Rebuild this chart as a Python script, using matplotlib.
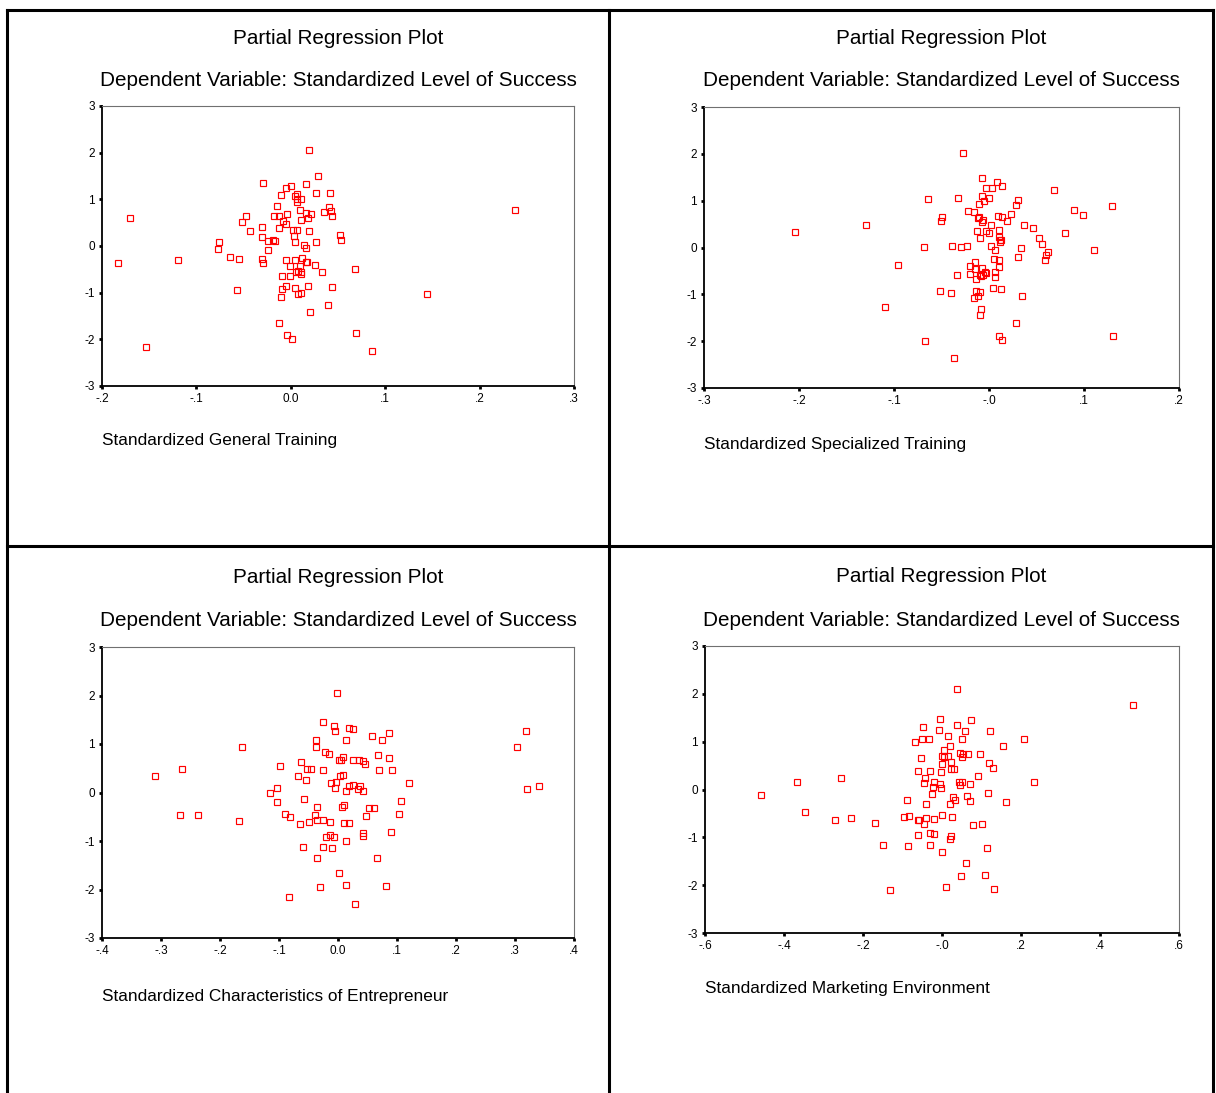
import matplotlib
matplotlib.use("Agg")
import matplotlib.pyplot as plt
from matplotlib.lines import Line2D

plt.rcParams['font.family'] = ['Liberation Sans', 'DejaVu Sans']

# Data
gen_x = [-0.183, -0.170, -0.153, -0.119, -0.076, -0.077, -0.064, -0.055, -0.057, -0.052,
         -0.047, -0.043, -0.031, -0.030, -0.029, -0.030, -0.029, -0.024, -0.024, -0.019,
         -0.017, -0.018, -0.015, -0.012, -0.012, -0.010, -0.008, -0.005, -0.004, -0.005,
         0.000, 0.004, 0.007, 0.007, 0.007, 0.011, 0.010, 0.016, 0.019, 0.029,
         0.027, 0.042, 0.016, 0.021, 0.018, 0.011, 0.035, 0.040, 0.043, 0.044,
         0.002, 0.007, 0.019, 0.003, 0.004, 0.014, 0.016, 0.027, 0.052, 0.053,
         -0.005, 0.004, 0.012, 0.016, 0.017, -0.001, 0.010, 0.026, 0.005, 0.008,
         0.011, 0.011, 0.033, 0.068, -0.009, -0.001, -0.005, -0.009, 0.004, 0.018,
         0.044, 0.008, 0.011, -0.010, 0.144, 0.039, 0.020, -0.012, -0.004, 0.001,
         0.069, 0.086, 0.237]
gen_y = [-0.37, 0.60, -2.16, -0.29, 0.08, -0.07, -0.23, -0.27, -0.95, 0.52,
         0.64, 0.33, 0.40, 0.20, 1.36, -0.27, -0.37, 0.10, -0.09, 0.12,
         0.10, 0.64, 0.85, 0.64, 0.38, 1.10, 0.54, 1.25, 0.68, 0.48,
         1.28, 1.08, 1.12, 1.00, 0.94, 1.00, 0.78, 1.32, 2.05, 1.51,
         1.14, 1.14, 0.70, 0.68, 0.60, 0.55, 0.72, 0.84, 0.76, 0.65,
         0.35, 0.35, 0.32, 0.22, 0.08, 0.03, -0.05, 0.08, 0.24, 0.12,
         -0.29, -0.29, -0.25, -0.35, -0.35, -0.43, -0.43, -0.40, -0.55, -0.53,
         -0.55, -0.59, -0.55, -0.50, -0.65, -0.65, -0.85, -0.93, -0.89, -0.85,
         -0.87, -1.03, -1.01, -1.09, -1.03, -1.27, -1.41, -1.66, -1.90, -2.00,
         -1.86, -2.26, 0.78]

spec_x = [-0.204, -0.130, -0.096, -0.110, -0.068, -0.064, -0.067, -0.049, -0.051, -0.052,
          -0.040, -0.039, -0.037, -0.034, -0.033, -0.030, -0.027, -0.023, -0.022, -0.020,
          -0.020, -0.016, -0.016, -0.015, -0.015, -0.014, -0.014, -0.013, -0.012, -0.011,
          -0.011, -0.012, -0.010, -0.010, -0.009, -0.008, -0.008, -0.009, -0.007, -0.007,
          -0.007, -0.006, -0.007, -0.006, -0.005, -0.004, -0.003, -0.003, -0.003, 0.000,
          0.000, 0.003, 0.002, 0.002, 0.005, 0.006, 0.006, 0.006, 0.004, 0.008,
          0.009, 0.010, 0.011, 0.011, 0.011, 0.012, 0.012, 0.013, 0.013, 0.014,
          0.014, 0.011, 0.014, 0.019, 0.023, 0.028, 0.031, 0.030, 0.034, 0.035,
          0.028, 0.037, 0.046, 0.053, 0.056, 0.059, 0.060, 0.062, 0.068, 0.080,
          0.089, 0.099, 0.110, 0.129, 0.131]
spec_y = [0.33, 0.47, -0.37, -1.27, 0.01, 1.03, -2.00, 0.66, 0.56, -0.93,
          -0.98, 0.03, -2.36, -0.59, 1.05, 0.01, 2.01, 0.03, 0.78, -0.39,
          -0.57, -1.08, 0.76, -0.31, -0.45, -0.67, -0.93, 0.35, 0.64, 0.66,
          0.92, -1.04, -0.95, -0.59, 0.20, -0.61, -1.32, -1.44, 1.48, 1.10,
          0.54, 0.59, -0.43, -0.59, 1.00, -0.53, -0.55, 1.26, 0.35, 1.05,
          0.30, 1.28, 0.47, 0.03, -0.25, -0.05, -0.53, -0.63, -0.86, 1.40,
          0.68, 0.37, 0.22, -0.27, -0.41, 0.15, 0.11, 0.15, -0.88, 1.32,
          0.66, -1.89, -1.98, 0.57, 0.71, 0.90, 1.02, -0.21, -0.02, -1.03,
          -1.62, 0.47, 0.42, 0.20, 0.07, -0.27, -0.17, -0.09, 1.22, 0.32,
          0.80, 0.70, -0.05, 0.88, -1.88]

char_x = [-0.311, -0.264, -0.267, -0.237, -0.163, -0.168, -0.116, -0.104, -0.104, -0.099,
          -0.090, -0.082, -0.083, -0.067, -0.065, -0.062, -0.058, -0.060, -0.054, -0.052,
          -0.046, -0.049, -0.038, -0.038, -0.039, -0.035, -0.035, -0.035, -0.031, -0.026,
          -0.026, -0.025, -0.025, -0.022, -0.020, -0.015, -0.013, -0.013, -0.012, -0.010,
          -0.007, -0.005, -0.007, -0.005, -0.004, -0.002, 0.001, 0.005, 0.003, 0.008,
          0.007, 0.001, 0.009, 0.011, 0.011, 0.013, 0.013, 0.014, 0.014, 0.018,
          0.019, 0.019, 0.026, 0.026, 0.026, 0.029, 0.034, 0.036, 0.037, 0.042,
          0.045, 0.042, 0.042, 0.042, 0.048, 0.053, 0.061, 0.058, 0.068, 0.070,
          0.066, 0.074, 0.081, 0.086, 0.087, 0.089, 0.092, 0.103, 0.106, 0.120,
          0.303, 0.319, 0.320, 0.340]
char_y = [0.35, 0.49, -0.47, -0.47, 0.94, -0.59, -0.01, 0.09, -0.20, 0.55,
          -0.45, -0.51, -2.16, 0.35, -0.65, 0.62, -0.13, -1.12, 0.25, 0.49,
          0.49, -0.61, 1.08, 0.94, -0.47, -0.29, -0.57, -1.36, -1.94, -0.57,
          -1.12, 1.46, 0.46, 0.84, -0.92, 0.79, -0.61, -0.88, 0.19, -1.14,
          1.38, 1.26, -0.92, 0.09, 0.21, 2.05, 0.67, 0.67, 0.35, 0.37,
          -0.29, -1.66, 0.73, -0.25, -0.63, 1.08, 0.03, -1.01, -1.91, 0.13,
          -0.63, 1.32, 1.30, 0.68, 0.15, -2.29, 0.07, 0.68, 0.13, 0.64,
          0.59, 0.03, -0.84, -0.90, -0.49, -0.31, -0.31, 1.16, 0.77, 0.46,
          -1.36, 1.08, -1.93, 0.71, 1.22, -0.81, 0.46, -0.45, -0.18, 0.19,
          0.94, 1.26, 0.07, 0.13]

mkt_x = [-0.459, -0.366, -0.346, -0.271, -0.256, -0.230, -0.170, -0.149, -0.131, -0.097,
         -0.084, -0.089, -0.087, -0.068, -0.062, -0.062, -0.062, -0.057, -0.052, -0.050,
         -0.047, -0.045, -0.043, -0.045, -0.041, -0.041, -0.033, -0.030, -0.030, -0.030,
         -0.025, -0.024, -0.021, -0.021, -0.019, -0.008, -0.006, -0.006, -0.003, -0.003,
         -0.001, -0.001, 0.001, 0.001, 0.006, 0.006, 0.011, 0.014, 0.016, 0.019,
         0.019, 0.021, 0.023, 0.023, 0.023, 0.025, 0.028, 0.030, 0.033, 0.038,
         0.038, 0.042, 0.045, 0.045, 0.047, 0.050, 0.050, 0.050, 0.052, 0.059,
         0.062, 0.064, 0.067, 0.072, 0.072, 0.074, 0.079, 0.091, 0.095, 0.100,
         0.108, 0.113, 0.116, 0.118, 0.121, 0.130, 0.132, 0.154, 0.163, 0.208,
         0.234, 0.483]
mkt_y = [-0.12, 0.16, -0.48, -0.64, 0.24, -0.60, -0.70, -1.16, -2.11, -0.58,
         -0.56, -0.22, -1.18, 0.99, 0.38, -0.64, -0.96, -0.64, 0.65, 1.05,
         1.30, 0.14, 0.24, -0.72, -0.30, -0.60, 1.06, 0.38, -0.90, -1.16,
         -0.10, 0.06, -0.62, -0.94, 0.16, 1.25, 1.48, 0.12, 0.36, 0.04,
         0.54, -0.54, 0.69, -1.30, 0.82, 0.67, -2.03, 1.11, 0.70, 0.90,
         -1.04, -0.31, 0.58, 0.42, -0.98, -0.58, -0.16, 0.42, -0.22, 2.11,
         1.34, 0.16, 0.77, 0.10, -1.81, 1.06, 0.68, 0.16, 0.74, 1.22,
         -1.54, -0.14, 0.74, 0.12, -0.24, 1.45, -0.74, 0.28, 0.74, -0.72,
         -1.79, -1.22, -0.08, 0.56, 1.22, 0.45, -2.07, 0.90, -0.26, 1.06,
         0.16, 1.77]

y_ticks = [-3, -2, -1, 0, 1, 2, 3]
y_labels = ['-3', '-2', '-1', '0', '1', '2', '3']

panels = [
    dict(x=gen_x, y=gen_y, xlabel='Standardized General Training',
         xticks=[-0.2, -0.1, 0.0, 0.1, 0.2, 0.3],
         xticklabels=['-.2', '-.1', '0.0', '.1', '.2', '.3'],
         box=(102, 106, 574, 386), title_y=38, sub_y=80, cx=338, label_y=440),
    dict(x=spec_x, y=spec_y, xlabel='Standardized Specialized Training',
         xticks=[-0.3, -0.2, -0.1, 0.0, 0.1, 0.2],
         xticklabels=['-.3', '-.2', '-.1', '-.0', '.1', '.2'],
         box=(704, 107, 1179, 388), title_y=39, sub_y=80, cx=941, label_y=444),
    dict(x=char_x, y=char_y, xlabel='Standardized Characteristics of Entrepreneur',
         xticks=[-0.4, -0.3, -0.2, -0.1, 0.0, 0.1, 0.2, 0.3, 0.4],
         xticklabels=['-.4', '-.3', '-.2', '-.1', '0.0', '.1', '.2', '.3', '.4'],
         box=(102, 647, 574, 938), title_y=577, sub_y=620, cx=338, label_y=996),
    dict(x=mkt_x, y=mkt_y, xlabel='Standardized Marketing Environment',
         xticks=[-0.6, -0.4, -0.2, 0.0, 0.2, 0.4, 0.6],
         xticklabels=['-.6', '-.4', '-.2', '-.0', '.2', '.4', '.6'],
         box=(705, 646, 1179, 933), title_y=576, sub_y=620, cx=941, label_y=989),
]

W, H = 1216, 1093
fig = plt.figure(figsize=(W / 100, H / 100), dpi=100)
fig.patch.set_facecolor('white')


def fx(px):
    return px / W


def fy(py):
    return 1 - py / H


# panel frame lines
for xs, ys in [((7, 1213), (10, 10)), ((7, 7), (10, 1093)), ((1213, 1213), (10, 1093)),
               ((609, 609), (10, 1093)), ((7, 1213), (546, 546))]:
    fig.add_artist(Line2D([fx(xs[0]), fx(xs[1])], [fy(ys[0]), fy(ys[1])],
                          color='black', lw=2.2, solid_capstyle='projecting'))

for p in panels:
    l, t, r, b = p['box']
    ax = fig.add_axes([fx(l), fy(b), fx(r - l), (b - t) / H])
    ax.plot(p['x'], p['y'], linestyle='none', marker='s', markersize=3.9,
            markerfacecolor='none', markeredgecolor='red', markeredgewidth=0.85)
    ax.set_xlim(p['xticks'][0], p['xticks'][-1])
    ax.set_ylim(-3, 3)
    ax.set_xticks(p['xticks'])
    ax.set_xticklabels(p['xticklabels'])
    ax.set_yticks(y_ticks)
    ax.set_yticklabels(y_labels)
    ax.tick_params(length=2, width=2, labelsize=8.5, pad=3, colors='black')
    for s in ['left', 'bottom']:
        ax.spines[s].set_color('black')
        ax.spines[s].set_linewidth(1.3)
    for s in ['top', 'right']:
        ax.spines[s].set_color('#707070')
        ax.spines[s].set_linewidth(0.8)

    fig.text(fx(p['cx']), fy(p['title_y']), 'Partial Regression Plot',
             ha='center', va='center', fontsize=14.9)
    fig.text(fx(p['cx']), fy(p['sub_y']), 'Dependent Variable: Standardized Level of Success',
             ha='center', va='center', fontsize=14.9)
    fig.text(fx(l), fy(p['label_y']), p['xlabel'], ha='left', va='center', fontsize=12.4)

fig.savefig('out.png', dpi=100)
